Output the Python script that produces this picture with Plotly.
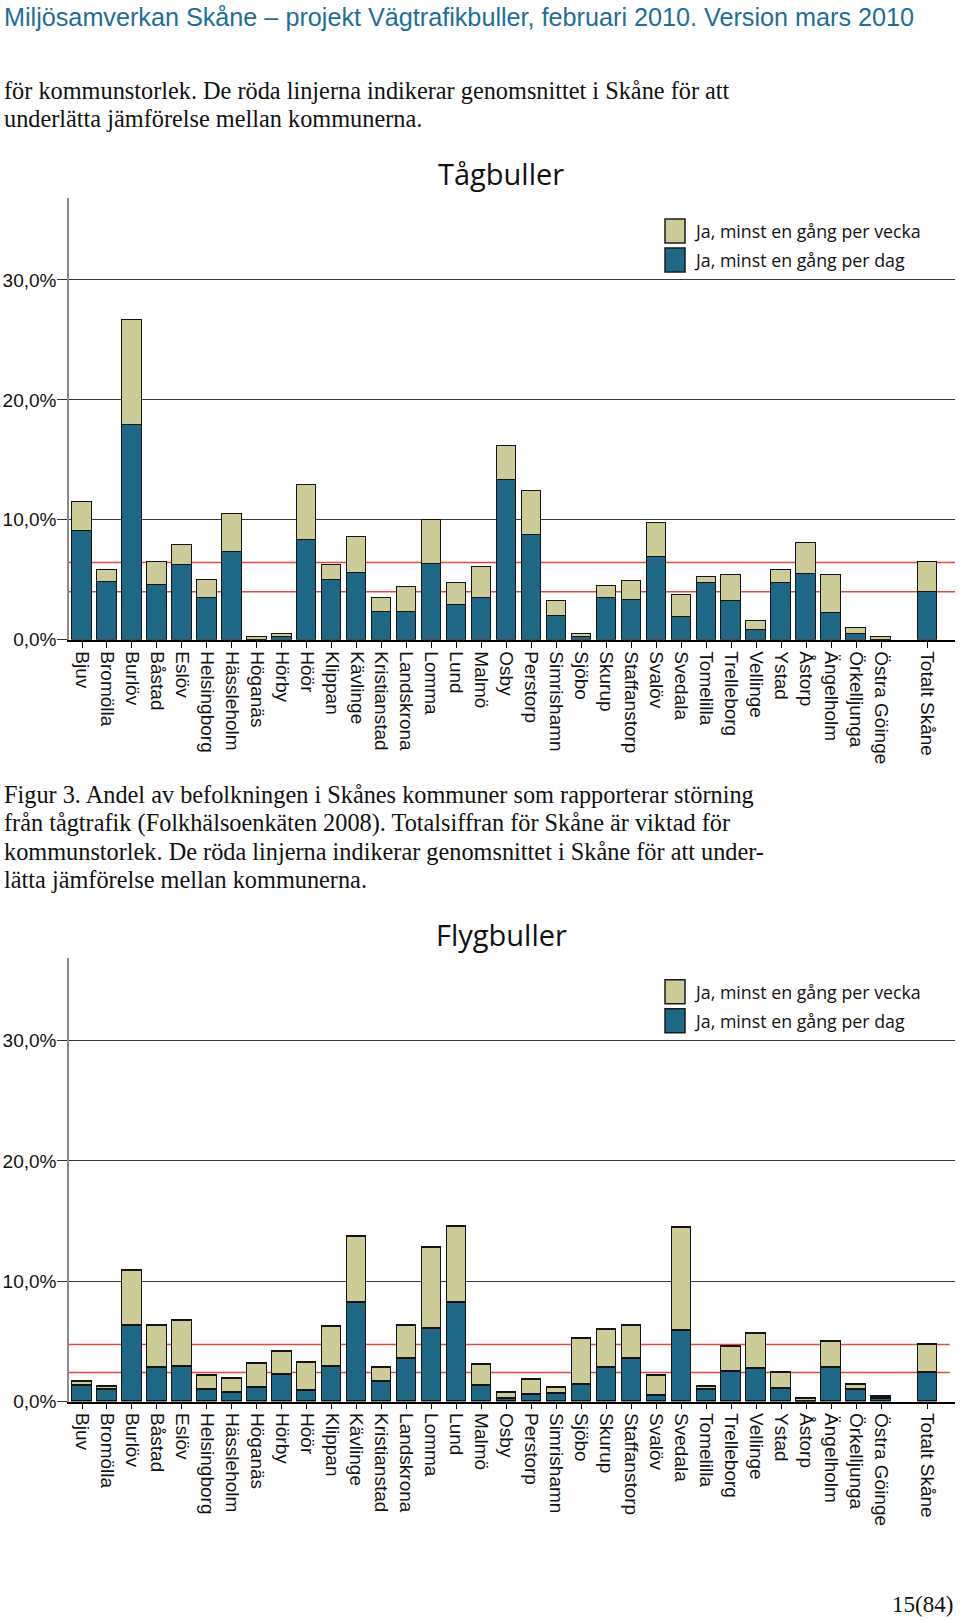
import plotly.graph_objects as go

# ---------------- data ----------------
kommuner = ["Bjuv", "Bromölla", "Burlöv", "Båstad", "Eslöv", "Helsingborg", "Hässleholm",
            "Höganäs", "Hörby", "Höör", "Klippan", "Kävlinge", "Kristianstad", "Landskrona",
            "Lomma", "Lund", "Malmö", "Osby", "Perstorp", "Simrishamn", "Sjöbo", "Skurup",
            "Staffanstorp", "Svalöv", "Svedala", "Tomelilla", "Trelleborg", "Vellinge",
            "Ystad", "Åstorp", "Ängelholm", "Örkelljunga", "Östra Göinge", "Totalt Skåne"]

serie_dag = "Ja, minst en gång per dag"
serie_vecka = "Ja, minst en gång per vecka"

# Tågbuller (%), stacked segments
tag_dag = [9.1, 4.8, 17.9, 4.6, 6.2, 3.5, 7.3, 0.0, 0.25, 8.3, 5.0, 5.6, 2.3, 2.3,
           6.3, 2.9, 3.5, 13.3, 8.7, 2.0, 0.2, 3.5, 3.3, 6.9, 1.9, 4.7, 3.2, 0.8,
           4.7, 5.5, 2.2, 0.5, 0.0, 4.0]
tag_vecka = [2.4, 1.0, 8.8, 1.9, 1.7, 1.5, 3.2, 0.25, 0.25, 4.6, 1.2, 3.0, 1.2, 2.1,
             3.7, 1.8, 2.55, 2.9, 3.7, 1.2, 0.25, 1.0, 1.6, 2.85, 1.8, 0.5, 2.2, 0.75,
             1.1, 2.6, 3.2, 0.5, 0.25, 2.45]

# Flygbuller (%), stacked segments
flyg_dag = [1.33, 0.97, 6.34, 2.83, 2.91, 0.97, 0.72, 1.14, 2.22, 0.94, 2.91, 8.2, 1.63, 3.6,
            6.09, 8.2, 1.32, 0.25, 0.55, 0.69, 1.36, 2.85, 3.6, 0.47, 5.93, 0.97, 2.52, 2.69,
            1.08, 0.0, 2.83, 0.97, 0.25, 2.41]
flyg_vecka = [0.3, 0.25, 4.52, 3.49, 3.85, 1.14, 1.14, 1.99, 1.96, 2.33, 3.32, 5.54, 1.2, 2.74,
              6.71, 6.32, 1.73, 0.47, 1.28, 0.45, 3.9, 3.11, 2.69, 1.66, 8.56, 0.25, 2.05, 2.91,
              1.33, 0.25, 2.16, 0.47, 0.19, 2.33]

y_ticks = [0, 10, 20, 30]
y_ticktext = ["0,0%", "10,0%", "20,0%", "30,0%"]

titles = ["Tågbuller", "Flygbuller"]

header = "Miljösamverkan Skåne – projekt Vägtrafikbuller, februari 2010. Version mars 2010"
top_lines = ["för kommunstorlek. De röda linjerna indikerar genomsnittet i Skåne för att",
             "underlätta jämförelse mellan kommunerna."]
caption_lines = ["Figur 3. Andel av befolkningen i Skånes kommuner som rapporterar störning",
                 "från tågtrafik (Folkhälsoenkäten 2008). Totalsiffran för Skåne är viktad för",
                 "kommunstorlek. De röda linjerna indikerar genomsnittet i Skåne för att under-",
                 "lätta jämförelse mellan kommunerna."]
page_no = "15(84)"

# ---------------- style ----------------
W, H = 960, 1620
S = 1.0065  # vertical calibration
TEAL = "#1e6886"
KHAKI = "#cdcb98"
RED = "#e24a40"
SANS = "Liberation Sans"
TITLE_FONT = "Open Sans"
SERIF = "Liberation Serif"

def px(x):
    return x / W

def py(y):
    return 1 - (y * S) / H

# x positions: municipalities at 0..32, total set apart
pos = list(range(len(kommuner) - 1)) + [len(kommuner) - 1 + 0.85]

fig = go.Figure()

charts = [
    dict(dag=tag_dag, vecka=tag_vecka, xa="x", ya="y", zero=640, top=198, y30=280,
         title_y=174, leg_y=(219, 248), red_x1=1.0),
    dict(dag=flyg_dag, vecka=flyg_vecka, xa="x2", ya="y2", zero=1402, top=958, y30=1041,
         title_y=935, leg_y=(980, 1009), red_x1=0.994),
]

x_left, x_right = 69, 955
pitch = 24.97
x0_center = 82

layout_axes = {}
shapes = []
annotations = []

for i, c in enumerate(charts):
    fig.add_trace(go.Bar(x=pos, y=c["dag"], name=serie_dag, xaxis=c["xa"], yaxis=c["ya"],
                         marker=dict(color=TEAL, line=dict(color="#141414", width=1.2)),
                         width=0.78, showlegend=False))
    fig.add_trace(go.Bar(x=pos, y=c["vecka"], name=serie_vecka, xaxis=c["xa"], yaxis=c["ya"],
                         marker=dict(color=KHAKI, line=dict(color="#141414", width=1.2)),
                         width=0.78, showlegend=False))
    unit = (c["zero"] - c["y30"]) / 30.0
    ymax = (c["zero"] - c["top"]) / unit
    xr0 = -(x0_center - x_left) / pitch
    xr1 = (x_right - x0_center) / pitch
    xkey = "xaxis" if i == 0 else "xaxis2"
    ykey = "yaxis" if i == 0 else "yaxis2"
    layout_axes[xkey] = dict(
        domain=[px(x_left), px(x_right)], range=[xr0, xr1], anchor=c["ya"],
        tickmode="array", tickvals=pos, ticktext=kommuner, tickangle=90,
        ticks="outside", ticklen=6, tickwidth=1.2, tickcolor="#000",
        showline=True, linecolor="#000", linewidth=1.5, showgrid=False, zeroline=False,
        tickfont=dict(family=SANS, size=19, color="#111"), fixedrange=True)
    layout_axes[ykey] = dict(
        domain=[py(c["zero"]), py(c["top"])], range=[0, ymax], anchor=c["xa"],
        tickmode="array", tickvals=y_ticks, ticktext=y_ticktext,
        ticks="outside", ticklen=10, tickwidth=1.2, tickcolor="#333",
        ticklabelstandoff=-3,
        showline=True, linecolor="#8c8c8c", linewidth=1.5,
        showgrid=True, gridcolor="#3a3a3a", gridwidth=1.2, zeroline=False,
        tickfont=dict(family=SANS, size=19, color="#111"), fixedrange=True)
    # red mean lines from Totalt Skåne values
    tot_dag = c["dag"][-1]
    tot_all = c["dag"][-1] + c["vecka"][-1]
    for yv in (tot_dag, tot_all):
        shapes.append(dict(type="line", xref="paper", x0=px(x_left),
                           x1=px(x_left + (x_right - x_left) * c["red_x1"]),
                           yref=c["ya"], y0=yv, y1=yv, line=dict(color=RED, width=1.5),
                           layer="below"))
    # title
    annotations.append(dict(text=titles[i], x=px(501), y=py(c["title_y"]), xref="paper", yref="paper",
                            xanchor="center", yanchor="middle", showarrow=False,
                            font=dict(family=TITLE_FONT, size=29, color="#111")))
    # legend
    for (ytop, col, label) in ((c["leg_y"][0], KHAKI, serie_vecka), (c["leg_y"][1], TEAL, serie_dag)):
        shapes.append(dict(type="rect", xref="paper", yref="paper",
                           x0=px(665), x1=px(685), y0=py(ytop + 24), y1=py(ytop),
                           fillcolor=col, line=dict(color="#1a1a1a", width=1.5), layer="above"))
        annotations.append(dict(text=label, x=px(692), y=py(ytop + 12), xref="paper", yref="paper",
                                xanchor="left", yanchor="middle", showarrow=False,
                                font=dict(family=TITLE_FONT, size=17.8, color="#111")))

# page texts
annotations.append(dict(text=header, x=px(2), y=py(17), xref="paper", yref="paper",
                        xanchor="left", yanchor="middle", showarrow=False,
                        font=dict(family=SANS, size=25.2, color="#1d6e98")))
for k, line in enumerate(top_lines):
    annotations.append(dict(text=line, x=px(2), y=py(91 + 28 * k), xref="paper", yref="paper",
                            xanchor="left", yanchor="middle", showarrow=False,
                            font=dict(family=SERIF, size=24.3, color="#111")))
for k, line in enumerate(caption_lines):
    annotations.append(dict(text=line, x=px(2), y=py(795 + 28.3 * k), xref="paper", yref="paper",
                            xanchor="left", yanchor="middle", showarrow=False,
                            font=dict(family=SERIF, size=24.3, color="#111")))
annotations.append(dict(text=page_no, x=px(955), y=py(1605), xref="paper", yref="paper",
                        xanchor="right", yanchor="middle", showarrow=False,
                        font=dict(family=SERIF, size=23, color="#111")))

fig.update_layout(
    width=W, height=H, margin=dict(l=0, r=0, t=0, b=0),
    paper_bgcolor="white", plot_bgcolor="white",
    barmode="stack", bargap=0, showlegend=False,
    shapes=shapes, annotations=annotations, **layout_axes)

fig.write_html("out.html", config={"displayModeBar": False})
